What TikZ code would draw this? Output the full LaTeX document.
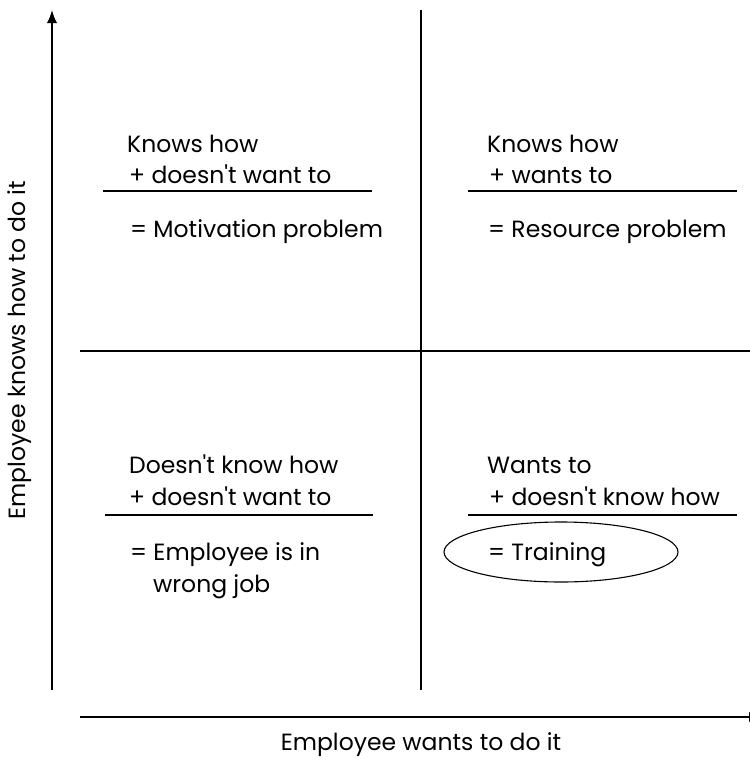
\documentclass[tikz,border=0pt]{standalone}
\usepackage{fontspec}
\setmainfont{Poppins}
\usepackage{tikz}
\usetikzlibrary{shapes.geometric, arrows.meta}

\newcommand{\apos}{\textquotesingle}

\tikzset{
  cell/.style={anchor=base west, inner sep=0pt, font=\fontsize{23.5}{28}\selectfont},
  rule/.style={line width=1.1pt},
  axis/.style={line width=1.3pt}
}

\begin{document}
\begin{tikzpicture}[x=1pt, y=-1pt]
  \useasboundingbox (0,0) rectangle (750,761);
  \clip (0,0) rectangle (750,761);

  % axes
  \coordinate (ybot) at (52,690);
  \coordinate (ytop) at (52,10);
  \coordinate (xleft) at (80,717);
  \coordinate (xright) at (762,717);
  \draw[axis, -{Latex[length=13pt, width=10pt]}] (ybot) -- (ytop);
  \draw[axis, -{Latex[length=13pt, width=10pt]}] (xleft) -- (xright);
  \node[font=\fontsize{23.5}{28}\selectfont, rotate=90] (ylab) at (20,350) {Employee knows how to do it};
  \node[font=\fontsize{23.5}{28}\selectfont] (xlab) at (421,745) {Employee wants to do it};

  % grid of the four cells
  \coordinate (vtop) at (421,10);
  \coordinate (vbot) at (421,690);
  \coordinate (hleft) at (80,351);
  \coordinate (hright) at (750,351);
  \draw[rule] (vtop) -- (vbot);
  \draw[rule] (hleft) -- (hright);

  % top left
  \node[cell] (tl1) at (127,152) {Knows how};
  \node[cell] (tl2) at (129,183) {+ doesn\apos t want to};
  \coordinate (tlra) at (103,191);
  \coordinate (tlrb) at (372,191);
  \draw[rule] (tlra) -- (tlrb);
  \node[cell] (tl3) at (130,237) {= Motivation problem};

  % top right
  \node[cell] (tr1) at (487,152) {Knows how};
  \node[cell] (tr2) at (489,183) {+ wants to};
  \coordinate (trra) at (468,191);
  \coordinate (trrb) at (737,191);
  \draw[rule] (trra) -- (trrb);
  \node[cell] (tr3) at (488,237) {= Resource problem};

  % bottom left
  \node[cell] (bl1) at (129,473) {Doesn\apos t know how};
  \node[cell] (bl2) at (129,505) {+ doesn\apos t want to};
  \coordinate (blra) at (105,515);
  \coordinate (blrb) at (373,515);
  \draw[rule] (blra) -- (blrb);
  \node[cell] (bl3) at (130,560) {= Employee is in};
  \node[cell] (bl4) at (153,592) {wrong job};

  % bottom right
  \node[cell] (br1) at (487,473) {Wants to};
  \node[cell] (br2) at (489,505) {+ doesn\apos t know how};
  \coordinate (brra) at (468,515);
  \coordinate (brrb) at (737,515);
  \draw[rule] (brra) -- (brrb);
  \node[draw, rule, ellipse, minimum width=234, minimum height=60] (ring) at (561,552) {};
  \node[cell] (br3) at (488,560) {= Training};
\end{tikzpicture}
\end{document}
